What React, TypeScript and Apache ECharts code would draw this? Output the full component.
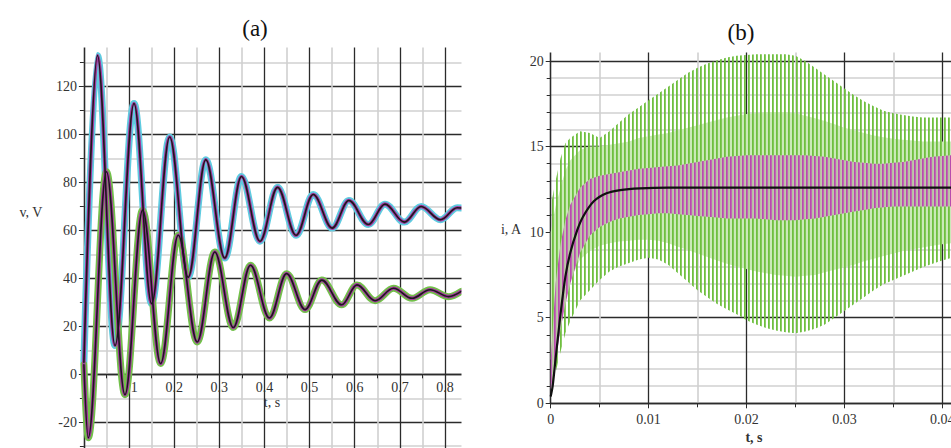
import React, { useEffect, useRef } from 'react';
import * as echarts from 'echarts';

// ---------- Panel (a): damped voltages ----------
const upperT = [0, 0.030, 0.069, 0.111, 0.150, 0.190, 0.231, 0.270, 0.312, 0.349, 0.390, 0.429, 0.470, 0.508, 0.550, 0.587, 0.630, 0.667, 0.710, 0.747, 0.790, 0.827, 0.836];
const upperV = [5, 133, 12, 113, 29.5, 99, 40.5, 89.5, 48.5, 82.5, 55.5, 78, 58, 75, 61, 72.5, 62.5, 71, 63.5, 70, 64.5, 69.5, 69.4];
const lowerT = [0, 0.0096, 0.050, 0.091, 0.130, 0.170, 0.209, 0.251, 0.290, 0.331, 0.369, 0.411, 0.449, 0.490, 0.527, 0.571, 0.605, 0.645, 0.686, 0.727, 0.767, 0.808, 0.836];
const lowerV = [4, -26.5, 84.5, -8.5, 68.5, 4.5, 58, 13.5, 51, 19.5, 45.5, 23.5, 42, 27, 39.3, 29, 37.3, 30.7, 35.9, 31.7, 35.3, 32.4, 34.6];
const aXLabels = ['0.1', '0.2', '0.3', '0.4', '0.5', '0.6', '0.7', '0.8'];
const aYLabels = ['-20', '0', '20', '40', '60', '80', '100', '120'];

// ---------- Panel (b): currents ----------
const bT = [0, 0.0005, 0.001, 0.0015, 0.002, 0.003, 0.004, 0.005, 0.006, 0.007, 0.008, 0.009, 0.010, 0.011, 0.012, 0.013, 0.014, 0.015, 0.016, 0.017, 0.018, 0.019, 0.020, 0.021, 0.022, 0.023, 0.024, 0.025, 0.026, 0.027, 0.028, 0.029, 0.030, 0.031, 0.032, 0.033, 0.034, 0.035, 0.036, 0.037, 0.038, 0.039, 0.040, 0.041];
const greenHi = [11.5, 13.0, 14.3, 15.2, 15.5, 15.9, 15.8, 15.5, 15.9, 16.4, 16.9, 17.3, 17.7, 18.1, 18.5, 18.9, 19.3, 19.6, 19.85, 20.05, 20.2, 20.3, 20.35, 20.4, 20.4, 20.4, 20.4, 20.3, 20.0, 19.6, 19.2, 18.8, 18.4, 18.0, 17.65, 17.35, 17.1, 16.95, 16.85, 16.75, 16.7, 16.7, 16.7, 16.7];
const greenLo = [0.8, 1.8, 3.0, 4.1, 4.8, 6.0, 6.6, 7.2, 7.7, 8.0, 8.2, 8.4, 8.5, 8.4, 8.1, 7.6, 7.1, 6.6, 6.2, 5.8, 5.5, 5.2, 4.85, 4.6, 4.4, 4.25, 4.15, 4.1, 4.2, 4.35, 4.6, 5.0, 5.4, 5.8, 6.2, 6.6, 6.95, 7.2, 7.45, 7.7, 7.95, 8.15, 8.35, 8.5];
const innerHi = [10, 11.5, 12.6, 13.6, 14.2, 14.8, 15.0, 15.0, 15.1, 15.2, 15.3, 15.5, 15.6, 15.7, 15.8, 15.95, 16.1, 16.25, 16.4, 16.55, 16.7, 16.8, 16.9, 16.95, 17.0, 17.0, 17.0, 16.95, 16.8, 16.65, 16.5, 16.3, 16.1, 15.95, 15.8, 15.65, 15.55, 15.45, 15.4, 15.35, 15.3, 15.3, 15.3, 15.3];
const innerLo = [2.5, 4.0, 5.2, 6.4, 7.2, 8.4, 8.9, 9.2, 9.35, 9.45, 9.5, 9.55, 9.55, 9.5, 9.35, 9.15, 8.95, 8.75, 8.55, 8.35, 8.15, 8.0, 7.85, 7.7, 7.6, 7.5, 7.45, 7.4, 7.45, 7.5, 7.65, 7.8, 7.95, 8.1, 8.3, 8.45, 8.6, 8.75, 8.9, 9.0, 9.1, 9.2, 9.3, 9.35];
const purpleHi = [2.5, 7.0, 9.3, 10.7, 11.6, 12.6, 13.1, 13.3, 13.4, 13.5, 13.6, 13.7, 13.75, 13.8, 13.85, 13.9, 14.0, 14.1, 14.2, 14.3, 14.4, 14.45, 14.5, 14.5, 14.5, 14.5, 14.5, 14.5, 14.5, 14.45, 14.4, 14.3, 14.2, 14.1, 14.05, 14.0, 14.0, 14.05, 14.1, 14.2, 14.3, 14.4, 14.45, 14.5];
const purpleLo = [0.8, 2.5, 4.3, 5.8, 7.0, 8.8, 9.8, 10.3, 10.6, 10.8, 10.9, 11.0, 11.05, 11.1, 11.1, 11.05, 11.0, 10.95, 10.9, 10.85, 10.8, 10.8, 10.8, 10.8, 10.75, 10.7, 10.7, 10.7, 10.75, 10.8, 10.9, 11.0, 11.1, 11.2, 11.3, 11.4, 11.45, 11.5, 11.5, 11.5, 11.5, 11.5, 11.5, 11.5];
const blackT = [0, 0.0002, 0.0005, 0.001, 0.0015, 0.002, 0.0027, 0.0033, 0.0044, 0.0057, 0.0071, 0.0091, 0.012, 0.041];
const blackV = [0.4, 1.0, 2.6, 5.2, 7.4, 8.8, 10.1, 10.9, 11.8, 12.27, 12.46, 12.56, 12.6, 12.6];
const bXLabels = ['0', '0.01', '0.02', '0.03', '0.04'];
const bYLabels = ['0', '5', '10', '15', '20'];

const serif = '"Liberation Serif", "Times New Roman", serif';
const labelColor = '#333';
const majorColor = '#2b2b2b';
const minorColor = '#d0d0d0';

const svgUrl = (s: string) => 'data:image/svg+xml;charset=utf-8,' + encodeURIComponent(s);
const greenPattern = {
  image: svgUrl('<svg xmlns="http://www.w3.org/2000/svg" width="4" height="4"><rect x="0" y="0" width="1.8" height="4" fill="#6fbf3f"/></svg>'),
  repeat: 'repeat', imageWidth: 4, imageHeight: 4,
};
const purplePattern = {
  image: svgUrl('<svg xmlns="http://www.w3.org/2000/svg" width="4" height="4"><rect x="0" y="0" width="4" height="4" fill="#eac3e5" fill-opacity="0.6"/><rect x="2" y="0" width="1.8" height="4" fill="#b84cad"/></svg>'),
  repeat: 'repeat', imageWidth: 4, imageHeight: 4,
};

function lineA(ts: number[], vs: number[], color: string, width: number, z: number) {
  return {
    type: 'line', xAxisIndex: 0, yAxisIndex: 0,
    data: ts.map((t, i) => [t, vs[i]]),
    showSymbol: false, symbol: 'none', smooth: 0.36, smoothMonotone: 'x',
    lineStyle: { color, width, cap: 'round', join: 'round' }, silent: true, z, clip: true,
  };
}

function band(lo: number[], hi: number[], fill: any, z: number) {
  return {
    type: 'custom', xAxisIndex: 1, yAxisIndex: 1, data: [[0, 0]], silent: true, z,
    renderItem: (_p: any, api: any) => {
      const pts: number[][] = [];
      for (let i = 0; i < bT.length; i++) pts.push(api.coord([bT[i], hi[i]]));
      for (let i = bT.length - 1; i >= 0; i--) pts.push(api.coord([bT[i], lo[i]]));
      return { type: 'polygon', shape: { points: pts }, style: { fill } };
    },
  };
}

function axisCommon(labels: string[], digits: number, labelMargin: number, minorSplit: number) {
  return {
    type: 'value',
    axisLine: { show: true, onZero: false, lineStyle: { color: majorColor, width: 1.3 } },
    axisTick: { show: true, length: 5, lineStyle: { color: majorColor, width: 1 } },
    minorTick: { show: true, splitNumber: minorSplit, length: 4, lineStyle: { color: majorColor, width: 1 } },
    splitLine: { show: true, lineStyle: { color: majorColor, width: 1.3 } },
    minorSplitLine: { show: true, lineStyle: { color: minorColor, width: 1.6 } },
    axisLabel: {
      show: true, margin: labelMargin, fontFamily: serif, fontSize: 14, color: labelColor,
      showMinLabel: true, showMaxLabel: true, hideOverlap: false,
      formatter: (v: number) => {
        const s = String(Math.round(v * Math.pow(10, digits)) / Math.pow(10, digits));
        return labels.includes(s) ? s : '';
      },
    },
  };
}

export default function App() {
  const ref = useRef<HTMLDivElement>(null);
  useEffect(() => {
    if (!ref.current) return;
    const chart = echarts.init(ref.current, null, { renderer: 'svg' });
    const aPxX = 451.4, aPxY = 2.3967;
    const bPxX = 9790, bPxY = 17.115;
    const aTop = 374.3 - 140 * aPxY;
    const aHeight = 180 * aPxY;
    const aZeroOffset = 374.3 - (aTop + aHeight);
    const option: any = {
      animation: false,
      backgroundColor: '#fff',
      grid: [
        { left: 83.9, top: aTop, width: 0.9 * aPxX, height: aHeight, outerBoundsMode: 'none', containLabel: false },
        { left: 550.7, top: 403.3 - 25 * bPxY, width: 0.05 * bPxX, height: 25 * bPxY, outerBoundsMode: 'none', containLabel: false },
      ],
      xAxis: [
        { ...axisCommon(aXLabels, 2, 6, 2), gridIndex: 0, position: 'bottom', offset: aZeroOffset, min: 0, max: 0.9, interval: 0.1 },
        { ...axisCommon(bXLabels, 3, 9, 2), gridIndex: 1, position: 'bottom', min: 0, max: 0.05, interval: 0.01 },
      ],
      yAxis: [
        { ...axisCommon(aYLabels, 0, 7, 2), gridIndex: 0, position: 'left', min: -40, max: 140, interval: 20 },
        { ...axisCommon(bYLabels, 0, 7, 5), gridIndex: 1, position: 'left', min: 0, max: 25, interval: 5 },
      ],
      series: [
        lineA(upperT, upperV, '#5fcbe0', 7, 2),
        lineA(lowerT, lowerV, '#72c04a', 7, 2),
        lineA(upperT, upperV, '#a4379f', 3.6, 3),
        lineA(lowerT, lowerV, '#a4379f', 3.6, 3),
        lineA(upperT, upperV, '#1a1a1a', 1.6, 4),
        lineA(lowerT, lowerV, '#1a1a1a', 1.6, 4),
        band(innerLo, innerHi, '#cbe9b8', 2),
        band(greenLo, greenHi, greenPattern, 3),
        band(purpleLo, purpleHi, purplePattern, 4),
        {
          type: 'line', xAxisIndex: 1, yAxisIndex: 1,
          data: blackT.map((t, i) => [t, blackV[i]]),
          showSymbol: false, symbol: 'none', smooth: 0.3,
          lineStyle: { color: '#111', width: 2.2 }, silent: true, z: 6,
        },
      ],
      graphic: [
        { type: 'rect', shape: { x: 40, y: 0, width: 430, height: 47.5 }, style: { fill: '#fff' }, z: 100 },
        { type: 'rect', shape: { x: 461.5, y: 0, width: 38, height: 460 }, style: { fill: '#fff' }, z: 100 },
        { type: 'rect', shape: { x: 530, y: 0, width: 430, height: 52.5 }, style: { fill: '#fff' }, z: 100 },
        { type: 'text', x: 255, y: 28, z: 110, style: { text: '(a)', font: `23px ${serif}`, fill: '#111', align: 'center', verticalAlign: 'middle' } },
        { type: 'text', x: 741, y: 32, z: 110, style: { text: '(b)', font: `23px ${serif}`, fill: '#111', align: 'center', verticalAlign: 'middle' } },
        { type: 'text', x: 31, y: 212, z: 110, style: { text: 'v, V', font: `14px ${serif}`, fill: labelColor, align: 'center', verticalAlign: 'middle' } },
        { type: 'text', x: 272, y: 402, z: 110, style: { text: 't, s', font: `14px ${serif}`, fill: labelColor, align: 'center', verticalAlign: 'middle' } },
        { type: 'text', x: 511, y: 229, z: 110, style: { text: 'i, A', font: `14px ${serif}`, fill: labelColor, align: 'center', verticalAlign: 'middle' } },
        { type: 'text', x: 754, y: 437, z: 110, style: { text: 't, s', font: `bold 14px ${serif}`, fill: labelColor, align: 'center', verticalAlign: 'middle' } },
      ],
    };
    chart.setOption(option);
    return () => chart.dispose();
  }, []);
  return <div ref={ref} style={{ position: 'fixed', left: 0, top: 0, width: 951, height: 448, background: '#fff' }} />;
}
